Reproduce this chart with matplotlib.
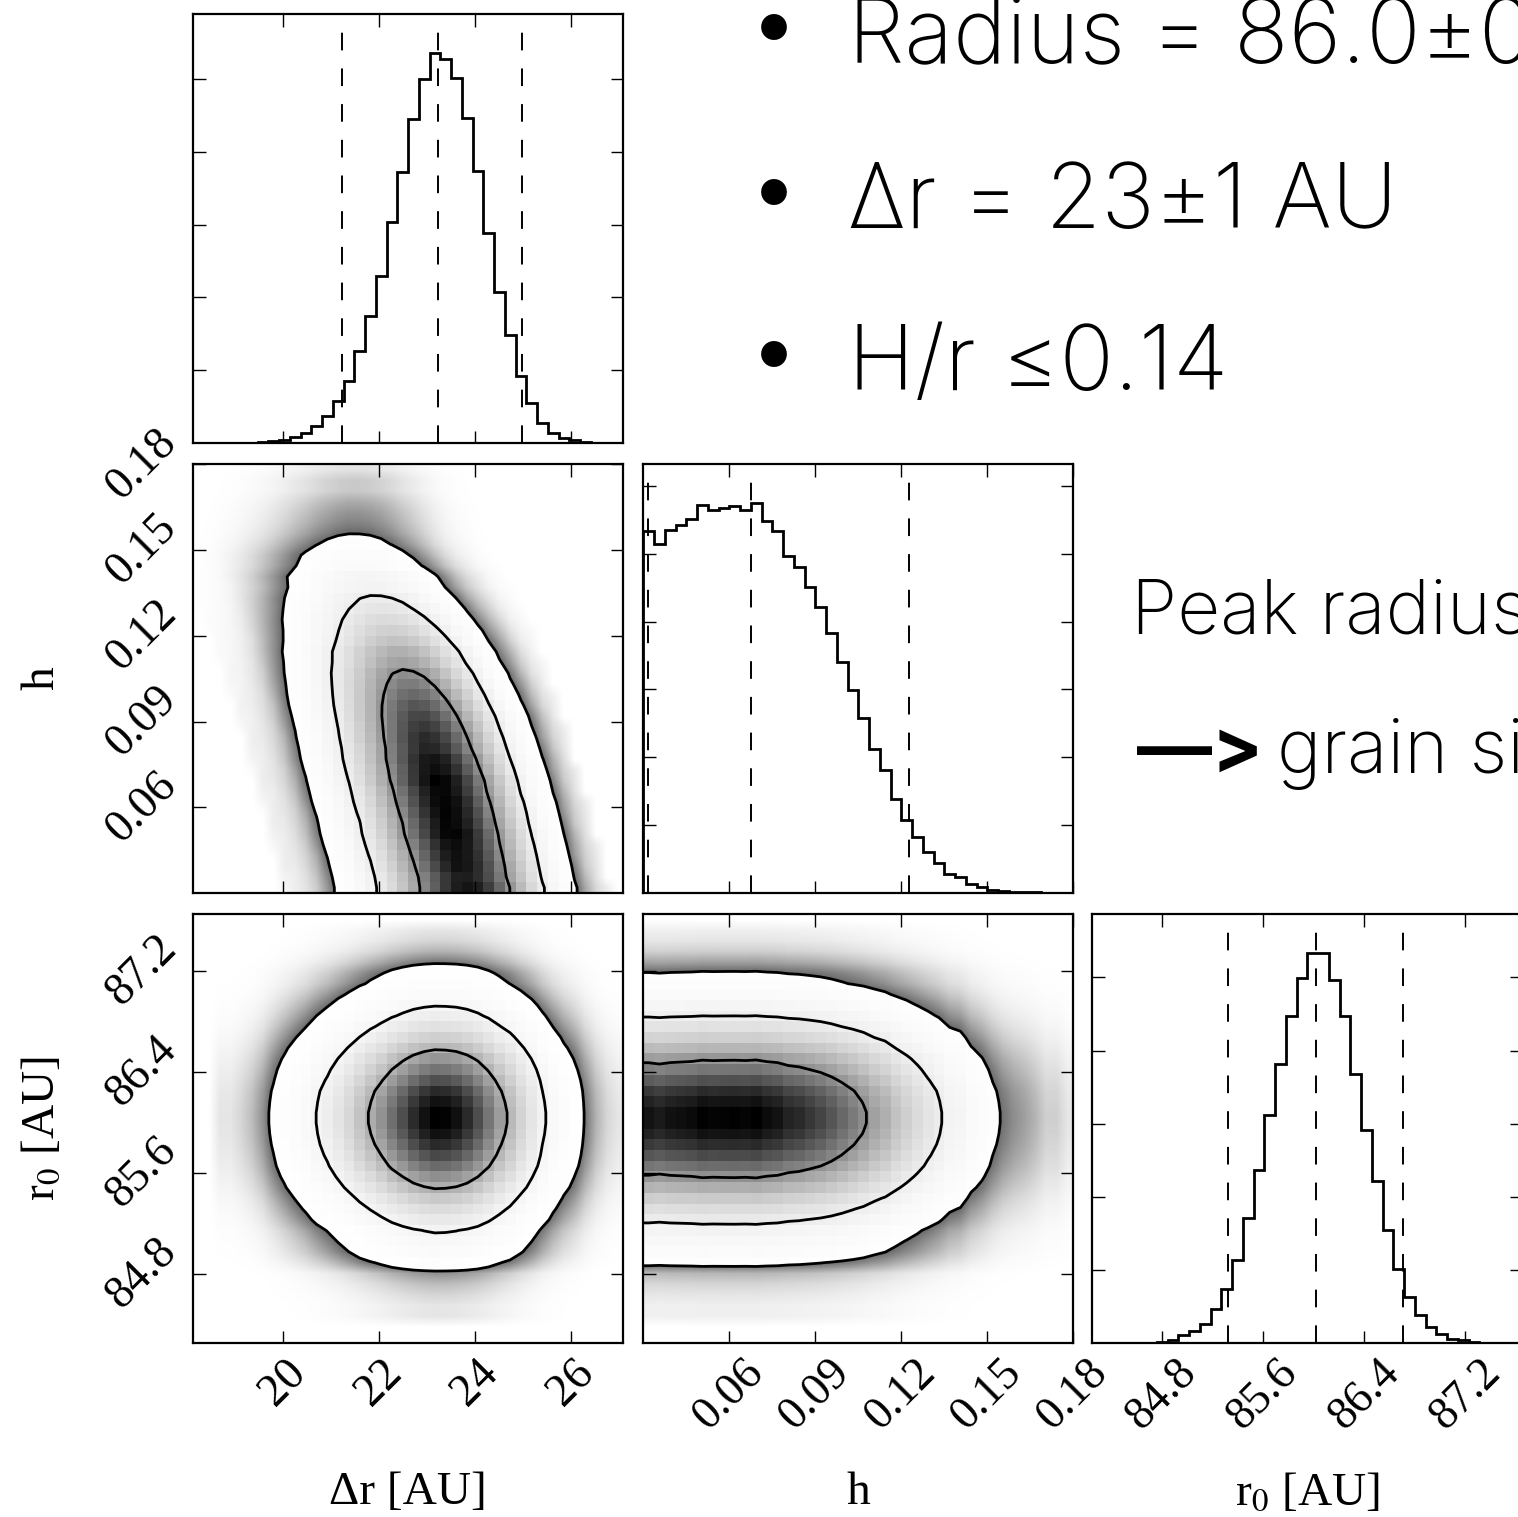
import numpy as np
import matplotlib
matplotlib.use("Agg")
import matplotlib.pyplot as plt
from matplotlib.colors import ListedColormap

plt.rcParams["font.family"] = ["Liberation Serif", "DejaVu Serif"]
plt.rcParams["mathtext.fontset"] = "stix"
plt.rcParams["lines.scale_dashes"] = False

# ranges of the three parameters (40 bins each)
dr_range = (18.12, 27.08)
h_range = (0.0301, 0.1801)
r0_range = (84.25, 87.65)

# 1D histogram counts (far tails estimated)
dr_counts = [0, 0, 1, 1, 2, 4, 9, 23, 46, 83, 138, 239, 367, 573, 853, 1261,
             1743, 2294, 3032, 3720, 4450, 5000, 5358, 5280, 5014, 4463,
             3739, 2890, 2078, 1482, 922, 555, 280, 138, 69, 37, 14, 5, 2, 1]
h_counts = [5332, 5150, 5346, 5425, 5509, 5715, 5641, 5681, 5705, 5651,
            5749, 5484, 5342, 4963, 4806, 4511, 4216, 3833, 3405, 2988,
            2585, 2118, 1808, 1381, 1081, 826, 604, 447, 285, 236,
            128, 88, 49, 29, 20, 15, 10, 5, 5, 2]
r0_counts = [0, 0, 1, 1, 2, 4, 9, 46, 105, 164, 255, 469, 743, 1130, 1713,
             2360, 3121, 3818, 4469, 4993, 5335, 5335, 4970, 4478, 3681,
             2907, 2214, 1540, 1007, 629, 378, 219, 118, 59, 36, 14, 5, 2, 1, 0]

# quantile lines (2.5, 50, 97.5 %)
dr_q = [21.23, 23.22, 24.97]
h_q = [0.0317, 0.0678, 0.1229]
r0_q = [85.32, 86.02, 86.71]

# ridge of the dr-h correlation (centre of dr at given h)
ridge_h = [0.03, 0.06, 0.09, 0.12, 0.15]
ridge_dr = [23.8, 23.35, 22.85, 22.25, 21.45]
ridge_width = 0.8

dr_ticks = [20, 22, 24, 26]
h_ticks = [0.06, 0.09, 0.12, 0.15, 0.18]
r0_ticks = [84.8, 85.6, 86.4, 87.2]
dr_ticklabels = ["20", "22", "24", "26"]
h_ticklabels = ["0.06", "0.09", "0.12", "0.15", "0.18"]
r0_ticklabels = ["84.8", "85.6", "86.4", "87.2"]

contour_fracs = [0.997, 0.955, 0.68]

W, Hpx = 1518, 1517
fig = plt.figure(figsize=(W / 100, Hpx / 100), dpi=100)
fig.patch.set_facecolor("white")

PW, PH = 430, 429
col_x = [193, 643.3, 1092.3]
row_y = [14, 464, 914]


def add_ax(c, r):
    return fig.add_axes([col_x[c] / W, 1 - (row_y[r] + PH) / Hpx, PW / W, PH / Hpx])


def style(ax):
    ax.tick_params(direction="in", top=True, right=True, length=9, width=1,
                   labelsize=33, pad=6)
    for s in ax.spines.values():
        s.set_linewidth(1.6)


black_alpha = ListedColormap(np.c_[np.zeros((256, 3)), np.linspace(0, 1, 256)])


def edges(rng):
    return np.linspace(rng[0], rng[1], 41)


def centers(e):
    return 0.5 * (e[1:] + e[:-1])


def hist_panel(ax, counts, rng, q):
    e = edges(rng)
    c = np.asarray(counts, float)
    ax.stairs(c, e, color="k", lw=2.0)
    for v in q:
        ax.axvline(v, color="k", lw=1.4, ls=(0, (12.7, 13)))
    ax.set_xlim(*rng)
    ax.set_ylim(0, 1.1 * c.max())
    ax.set_yticks(np.arange(1000, c.max() * 1.1, 1000))
    ax.set_yticklabels([])


def panel2d(ax, H, xr, yr):
    xe, ye = edges(xr), edges(yr)
    xc, yc = centers(xe), centers(ye)
    flat = np.sort(H.ravel())[::-1]
    cum = np.cumsum(flat) / flat.sum()
    lev = [flat[min(np.searchsorted(cum, f), flat.size - 1)] for f in contour_fracs]
    # grey halo standing in for the scattered samples outside the outer contour
    dark = np.clip(1 - 0.9 ** (8.5 * (H / lev[0]) ** 0.75), 0, 1)
    ax.imshow(dark, extent=(xr[0], xr[1], yr[0], yr[1]), origin="lower",
              cmap=black_alpha, vmin=0, vmax=1, interpolation="bilinear",
              aspect="auto", zorder=0)
    xp = np.r_[xr[0], xc, xr[1]]
    yp = np.r_[yr[0], yc, yr[1]]
    Hp = np.pad(H, 1, mode="edge")
    ax.contourf(xp, yp, Hp, [lev[0], Hp.max() * 1.01], colors="white", zorder=1)
    ax.pcolormesh(xe, ye, H / H.max(), cmap=black_alpha, vmin=0, vmax=1, zorder=1.5)
    ax.contour(xp, yp, Hp, lev, colors="k", linewidths=2.0, zorder=2)
    ax.set_xlim(*xr)
    ax.set_ylim(*yr)


dr_c = centers(edges(dr_range))
h_c = centers(edges(h_range))
drc = np.asarray(dr_counts, float)
hc = np.asarray(h_counts, float)
rc = np.asarray(r0_counts, float)

# dr-h joint: h marginal times dr profile shifted along the ridge
H_dh = np.zeros((40, 40))
for j in range(40):
    s = np.interp(h_c[j], ridge_h, ridge_dr)
    prof = np.interp(dr_q[1] + (dr_c - s) / ridge_width, dr_c, drc, left=0, right=0)
    H_dh[j] = hc[j] * prof / prof.sum()
H_dr = np.outer(rc, drc)
H_hr = np.outer(rc, hc)

# diagonal
ax00 = add_ax(0, 0)
hist_panel(ax00, dr_counts, dr_range, dr_q)
ax00.set_xticks(dr_ticks)
ax00.set_xticklabels([])
style(ax00)

ax11 = add_ax(1, 1)
hist_panel(ax11, h_counts, h_range, h_q)
ax11.set_xticks(h_ticks)
ax11.set_xticklabels([])
style(ax11)

ax22 = add_ax(2, 2)
hist_panel(ax22, r0_counts, r0_range, r0_q)
ax22.set_xticks(r0_ticks)
ax22.set_xticklabels(r0_ticklabels, rotation=45)
style(ax22)

# off-diagonal
ax10 = add_ax(0, 1)
panel2d(ax10, H_dh, dr_range, h_range)
ax10.set_xticks(dr_ticks)
ax10.set_xticklabels([])
ax10.set_yticks(h_ticks)
ax10.set_yticklabels(h_ticklabels, rotation=45, va="center")
style(ax10)

ax20 = add_ax(0, 2)
panel2d(ax20, H_dr, dr_range, r0_range)
ax20.set_xticks(dr_ticks)
ax20.set_xticklabels(dr_ticklabels, rotation=45)
ax20.set_yticks(r0_ticks)
ax20.set_yticklabels(r0_ticklabels, rotation=45, va="center")
style(ax20)

ax21 = add_ax(1, 2)
panel2d(ax21, H_hr, h_range, r0_range)
ax21.set_xticks(h_ticks)
ax21.set_xticklabels(h_ticklabels, rotation=45)
ax21.set_yticks(r0_ticks)
ax21.set_yticklabels([])
style(ax21)

lab = dict(fontsize=34)
ax20.set_xlabel("Δr [AU]", **lab)
ax21.set_xlabel("h", **lab)
ax22.set_xlabel("r$_0$ [AU]", **lab)
ax10.set_ylabel("h", **lab)
ax20.set_ylabel("r$_0$ [AU]", **lab)
for a in (ax20, ax21, ax22):
    a.xaxis.set_label_coords(0.5, -0.3)
for a in (ax10, ax20):
    a.yaxis.set_label_coords(-0.3, 0.5)

# summary text on the right
fam = ["Inter", "Roboto", "DejaVu Sans"]
sans = dict(family=fam, fontweight="light", color="k")
bullet_lines = ["Radius = 86.0±0.7 AU", "Δr = 23±1 AU", "H/r ≤0.14"]
baselines = [63, 228, 390]
bullet_mid = [30, 195, 357]
for txt, yb, ym in zip(bullet_lines, baselines, bullet_mid):
    fig.text(774 / W, 1 - ym / Hpx, "•", ha="center", va="center", fontsize=82, **sans)
    fig.text(848 / W, 1 - yb / Hpx, txt, ha="left", va="baseline", fontsize=65, **sans)
fig.text(1131 / W, 1 - 633 / Hpx, "Peak radius", ha="left", va="baseline", fontsize=54, **sans)
fig.text(1137 / W, 1 - 773 / Hpx, "—>", ha="left", va="baseline", fontsize=54,
         family=fam, fontweight="bold", color="k")
fig.text(1277 / W, 1 - 773 / Hpx, "grain size", ha="left", va="baseline", fontsize=54, **sans)

fig.savefig("out.png", dpi=100)
